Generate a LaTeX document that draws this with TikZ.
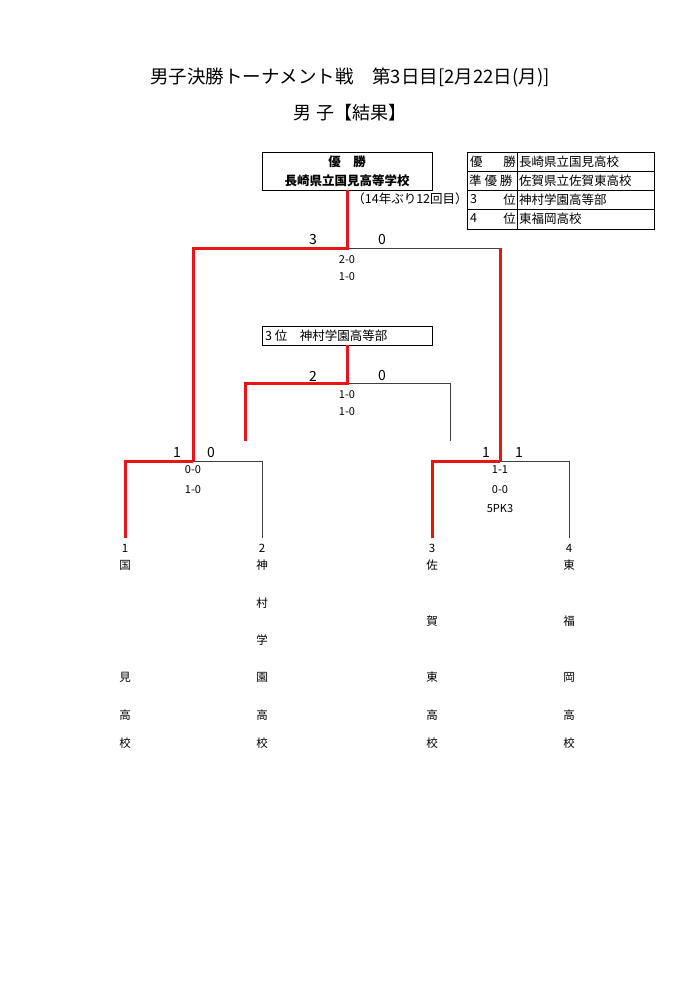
\documentclass[tikz,border=0pt]{standalone}
\usepackage{fontspec}
\setmainfont{Noto Sans CJK JP}
\begin{document}
\begin{tikzpicture}[x=1pt,y=-1pt,
  red/.style={draw={rgb,255:red,235;green,20;blue,20},line width=3pt},
  blk/.style={draw=black!75,line width=0.9pt},
  t/.style={inner sep=0pt,font=\fontsize{12.5}{14}\selectfont},
  ts/.style={inner sep=0pt,font=\fontsize{11}{12}\selectfont},
  sc/.style={inner sep=0pt,font=\fontsize{14}{15}\selectfont},
  nm/.style={inner sep=0pt,font=\fontsize{11.5}{12}\selectfont}]
\useasboundingbox (0,0) rectangle (700,990);
\node[inner sep=0pt,font=\fontsize{18.5}{20}\selectfont] (title) at (350,77) {男子決勝トーナメント戦　第3日目[2月22日(月)]};
\node[inner sep=0pt,font=\fontsize{18}{20}\selectfont] (sub) at (350,113) {男 子【結果】};
% champion box
\node[draw,line width=0.8pt,minimum width=170,minimum height=38,inner sep=0pt,align=center,font=\fontsize{12.5}{19}\selectfont\bfseries] (champ) at (347,171) {優　勝\\長崎県立国見高等学校};
\node[t] (note) at (410,199) {（14年ぶり12回目）};
% table
\draw[line width=0.8pt] (467,152) rectangle (654,229);
\foreach \y in {171,190,209} \draw[line width=0.6pt] (467,\y) -- (654,\y);
\draw[line width=0.6pt] (517,152) -- (517,229);
\node[t,anchor=west] (r1a) at (470,161.5) {優};
\node[t,anchor=east] (r1b) at (516,161.5) {勝};
\node[t,anchor=west] (r2a) at (469,180.5) {準 優 勝};
\node[t,anchor=west] (r3a) at (470,199.5) {3};
\node[t,anchor=east] (r3b) at (516,199.5) {位};
\node[t,anchor=west] (r4a) at (470,218.5) {4};
\node[t,anchor=east] (r4b) at (516,218.5) {位};
\node[t,anchor=west] (r1c) at (519,161.5) {長崎県立国見高校};
\node[t,anchor=west] (r2c) at (519,180.5) {佐賀県立佐賀東高校};
\node[t,anchor=west] (r3c) at (519,199.5) {神村学園高等部};
\node[t,anchor=west] (r4c) at (519,218.5) {東福岡高校};
% third box
\node[draw,line width=0.8pt,minimum width=170,minimum height=19,inner sep=0pt] (third) at (347,335.5) {};
\node[t,anchor=west] (thirdt) at (265,335.5) {3 位　神村学園高等部};
% coordinates
\coordinate (f) at (347,248);
\coordinate (fl) at (193,248); \coordinate (fr) at (500,248);
\coordinate (s1) at (193,461); \coordinate (s2) at (500,461);
\coordinate (t) at (347,383); \coordinate (tl) at (245,383); \coordinate (tr) at (450,383);
\coordinate (tlb) at (245,441); \coordinate (trb) at (450,441);
\coordinate (a) at (125,461); \coordinate (b) at (262,461);
\coordinate (c) at (432,461); \coordinate (d) at (569,461);
\coordinate (ab) at (125,538); \coordinate (bb) at (262,538);
\coordinate (cb) at (432,538); \coordinate (db) at (569,538);
% black lines
\draw[blk] (f) -- (fr);
\draw[blk] (t) -- (tr) -- (trb);
\draw[blk] (s1) -- (b) -- (bb);
\draw[blk] (s2) -- (d) -- (db);
% red lines
\draw[red] (champ.south) -- (f) -- (fl) -- (s1);
\draw[red] (fr) -- (s2);
\draw[red] (third.south) -- (t) -- (tl) -- (tlb);
\draw[red] (s1) -- (a) -- (ab);
\draw[red] (s2) -- (c) -- (cb);
% scores
\node[sc] (f3) at (313,240) {3}; \node[sc] (f0) at (382,240) {0};
\node[ts] (fs1) at (347,260) {2-0}; \node[ts] (fs2) at (347,277) {1-0};
\node[sc] (t2) at (313,376) {2}; \node[sc] (t0) at (382,376) {0};
\node[ts] (ts1) at (347,395) {1-0}; \node[ts] (ts2) at (347,412) {1-0};
\node[sc] (a1) at (177,453) {1}; \node[sc] (a0) at (211,453) {0};
\node[ts] (as1) at (193,470) {0-0}; \node[ts] (as2) at (193,490) {1-0};
\node[sc] (c1) at (486,453) {1}; \node[sc] (c2) at (519,453) {1};
\node[ts] (cs1) at (500,470) {1-1}; \node[ts] (cs2) at (500,490) {0-0};
\node[ts] (cs3) at (500,509) {5PK3};
% team names
\node[nm] (n1) at (125,548) {1}; \node[nm] (n2) at (262,548) {2};
\node[nm] (n3) at (432,548) {3}; \node[nm] (n4) at (569,548) {4};
\foreach \ch/\y [count=\i] in {国/565,見/677,高/715,校/743} \node[nm] (A\i) at (125,\y) {\ch};
\foreach \ch/\y [count=\i] in {神/565,村/603,学/640,園/677,高/715,校/743} \node[nm] (B\i) at (262,\y) {\ch};
\foreach \ch/\y [count=\i] in {佐/565,賀/621,東/677,高/715,校/743} \node[nm] (C\i) at (432,\y) {\ch};
\foreach \ch/\y [count=\i] in {東/565,福/621,岡/677,高/715,校/743} \node[nm] (D\i) at (569,\y) {\ch};
\end{tikzpicture}
\end{document}
